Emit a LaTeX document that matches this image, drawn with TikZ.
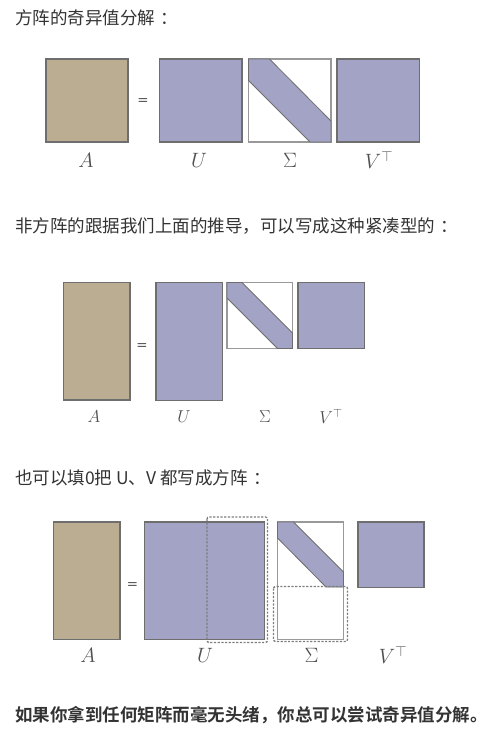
\documentclass[tikz,border=0pt]{standalone}
\usepackage{fontspec}
\newfontfamily\cjk{Noto Sans CJK SC}[BoldFont={Noto Sans CJK SC Bold}]
\definecolor{tan}{HTML}{BAAD91}
\definecolor{pur}{HTML}{A3A3C6}
\definecolor{edge}{HTML}{6E6E6E}
\definecolor{txt}{HTML}{333333}
\definecolor{lab}{HTML}{505050}
\newcommand{\cc}{\kern0.3em：}
\tikzset{
  matA/.style={fill=tan,draw=edge,line width=1.2pt},
  matP/.style={fill=pur,draw=edge,line width=1.2pt},
  matW/.style={fill=white,draw=edge!70,line width=1.2pt},
  band/.style={fill=pur,draw=edge,line width=0.8pt},
  dsh/.style={draw=edge!90,line width=1.3pt,dash pattern=on 2.2pt off 1.5pt,rounded corners=2pt},
  title/.style={anchor=west,inner sep=0pt,text=txt,font=\cjk\fontsize{17.5}{21}\selectfont},
  lab/.style={inner sep=0pt,text=lab},
  eq/.style={inner sep=0pt,text=txt!90,font=\sffamily\bfseries\fontsize{12}{14}\selectfont}
}
\begin{document}
\begin{tikzpicture}[x=1pt,y=-1pt]
\useasboundingbox (0,0) rectangle (498,737);
% ---------- panel 1 ----------
\node[title] (t1) at (15,18) {方阵的奇异值分解\cc};
\draw[matA] (46,59) rectangle (128,142);
\node[eq] (e1) at (143,101) {=};
\draw[matP] (159.5,59) rectangle (242,142);
\draw[matW] (248.5,59) rectangle (331,142);
\draw[band] (248.5,59) -- (269.5,59) -- (331,121) -- (331,142) -- (310,142) -- (248.5,80.5) -- cycle;
\draw[matP] (337,59) rectangle (419.5,142);
\begin{scope}[every node/.style={lab,font=\fontsize{22}{24}\selectfont}]
\node (a1) at (86,160) {$A$};
\node (u1) at (199,160) {$U$};
\node (s1) at (290,160) {$\Sigma$};
\node (v1) at (379,160) {$V^{\top}$};
\end{scope}
% ---------- panel 2 ----------
\node[title] (t2) at (15,226) {非方阵的跟据我们上面的推导，可以写成这种紧凑型的\cc};
\draw[matA] (63.5,282.5) rectangle (130,400);
\node[eq] (e2) at (142,346) {=};
\draw[matP] (156,282.5) rectangle (222.5,400.5);
\draw[matW] (227,282.5) rectangle (292.5,348.5);
\draw[band] (227,282.5) -- (242,282.5) -- (292.5,333) -- (292.5,348.5) -- (277.5,348.5) -- (227,298) -- cycle;
\draw[matP] (298,282.5) rectangle (364.5,348.5);
\begin{scope}[every node/.style={lab,font=\fontsize{18}{20}\selectfont}]
\node (a2) at (94,416.5) {$A$};
\node (u2) at (184,416.5) {$U$};
\node (s2) at (265,416.5) {$\Sigma$};
\node (v2) at (331,416.5) {$V^{\top}$};
\end{scope}
% ---------- panel 3 ----------
\node[title] (t3) at (15,478) {也可以填0把 U、V 都写成方阵\cc};
\draw[matA] (53.5,522) rectangle (120,639.5);
\node[eq] (e3) at (132.5,585) {=};
\draw[matP] (144.5,522) rectangle (264.5,639.5);
\draw[matW] (277.5,522) rectangle (343.5,639.5);
\draw[band] (277.5,522) -- (293.5,522) -- (343.5,572) -- (343.5,587) -- (326,587) -- (277.5,538) -- cycle;
\draw[dsh] (207,517) rectangle (267.5,642.5);
\draw[dsh] (273.5,586.5) rectangle (347.5,641.5);
\draw[matP] (358,522) rectangle (424,587.5);
\begin{scope}[every node/.style={lab,font=\fontsize{20}{22}\selectfont}]
\node (a3) at (88,655) {$A$};
\node (u3) at (205,655) {$U$};
\node (s3) at (311.5,655) {$\Sigma$};
\node (v3) at (393,655) {$V^{\top}$};
\end{scope}
% ---------- closing ----------
\node[title,font=\cjk\bfseries\fontsize{17.5}{21}\selectfont] (t4) at (15,715) {如果你拿到任何矩阵而毫无头绪，你总可以尝试奇异值分解。};
\end{tikzpicture}
\end{document}
